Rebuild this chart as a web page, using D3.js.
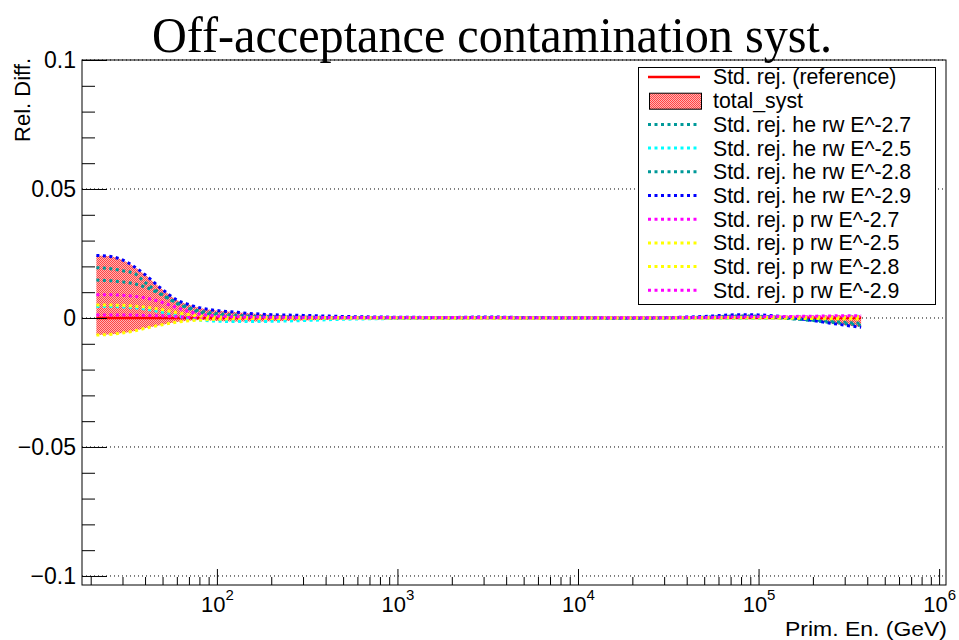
<!DOCTYPE html>
<html lang="en">
<head>
<meta charset="UTF-8">
<title>Off-acceptance contamination syst.</title>
<script src="https://cdn.jsdelivr.net/npm/d3@7"></script>
<style>
  body { margin: 0; background: #fff; }
</style>
</head>
<body>
<script>
// primary energy bin centres (GeV)
const energies = [21.5, 25, 30, 35, 40, 50, 60, 70, 80, 100, 120, 150, 200, 300, 500, 1000, 2000, 3000, 5000,
  10000, 20000, 50000, 80000, 100000, 150000, 200000, 250000, 300000, 370000]

const reference = [0, 0, 0, 0, 0, 0, 0, 0, 0, 0, 0, 0, 0, 0, 0, 0, 0, 0, 0, 0, 0, 0, 0, 0, 0, 0, 0, 0, 0]
const heRw27 = [0.0147, 0.0145, 0.0140, 0.0132, 0.0120, 0.0088, 0.0056, 0.0036, 0.0022, 0.0011, 0.0007, 0.0004, 0.0002, 0.0001, 0.0001, 0, 0, 0.0001, 0,
  0, 0, 0.0002, 0.0005, 0.0004, -0.0003, -0.0008, -0.0013, -0.0017, -0.0021]
const heRw25 = [0.0045, 0.0045, 0.0043, 0.0040, 0.0035, 0.0022, 0.0008, -0.0002, -0.0008, -0.0012, -0.0014, -0.0014, -0.0013, -0.0010, -0.0005, -0.0002, -0.0001, 0, 0,
  0, 0, -0.0001, -0.0002, -0.0002, 0.0001, 0.0003, 0.0005, 0.0006, 0.0007]
const heRw28 = [0.0195, 0.0192, 0.0183, 0.0172, 0.0138, 0.0090, 0.0060, 0.0040, 0.0028, 0.0017, 0.0012, 0.0008, 0.0005, 0.0003, 0.0002, 0.0001, 0.0001, 0.0002, 0.0001,
  0, -0.0001, 0.0003, 0.0008, 0.0007, -0.0002, -0.0010, -0.0017, -0.0022, -0.0028]
const heRw29 = [0.0242, 0.0240, 0.0225, 0.0198, 0.0168, 0.0110, 0.0070, 0.0052, 0.0040, 0.0029, 0.0024, 0.0018, 0.0013, 0.0010, 0.0006, 0.0003, 0.0002, 0.0004, 0.0002,
  0.0001, 0, 0.0006, 0.0013, 0.0012, 0.0002, -0.0010, -0.0020, -0.0028, -0.0036]
const pRw27 = [0.0012, 0.0012, 0.0012, 0.0011, 0.0010, 0.0008, 0.0005, 0.0003, 0.0002, 0.0001, 0.0001, 0.0001, 0.0001, 0.0001, 0.0001, 0.0001, 0.0001, 0.0001, 0.0001,
  0.0001, 0.0001, 0.0002, 0.0003, 0.0003, 0.0004, 0.0005, 0.0005, 0.0006, 0.0006]
const pRw25 = [-0.0066, -0.0064, -0.0058, -0.0050, -0.0040, -0.0026, -0.0016, -0.0011, -0.0008, -0.0005, -0.0003, -0.0002, -0.0002, -0.0001, 0, 0, 0, 0, 0,
  0, 0, 0, 0, 0, -0.0001, -0.0002, -0.0003, -0.0003, -0.0004]
const pRw28 = [0.0050, 0.0050, 0.0049, 0.0046, 0.0042, 0.0032, 0.0021, 0.0013, 0.0008, 0.0004, 0.0003, 0.0002, 0.0002, 0.0001, 0.0001, 0.0001, 0, 0.0001, 0,
  0, 0, 0.0001, 0.0002, 0.0002, 0.0003, 0.0003, 0.0004, 0.0004, 0.0005]
const pRw29 = [0.0090, 0.0090, 0.0088, 0.0084, 0.0078, 0.0060, 0.0040, 0.0025, 0.0015, 0.0008, 0.0005, 0.0004, 0.0003, 0.0002, 0.0002, 0.0002, 0.0002, 0.0002, 0.0001,
  0.0001, 0.0001, 0.0002, 0.0004, 0.0005, 0.0006, 0.0007, 0.0008, 0.0009, 0.0009]

const seriesNames = ['Std. rej. he rw E^-2.7', 'Std. rej. he rw E^-2.5', 'Std. rej. he rw E^-2.8', 'Std. rej. he rw E^-2.9',
  'Std. rej. p rw E^-2.7', 'Std. rej. p rw E^-2.5', 'Std. rej. p rw E^-2.8', 'Std. rej. p rw E^-2.9']
const seriesValues = [heRw27, heRw25, heRw28, heRw29, pRw27, pRw25, pRw28, pRw29]
const seriesColors = ['#009999', '#00ffff', '#009999', '#0000ff', '#ff00ff', '#ffff00', '#ffff00', '#ff00ff']

const yMajor = [-0.1, -0.05, 0, 0.05, 0.1]
const yMajorLabels = ['\u22120.1', '\u22120.05', '0', '0.05', '0.1']
const xMajor = [100, 1000, 10000, 100000, 1000000]
const xMajorExp = ['2', '3', '4', '5', '6']

const W = 959, H = 640
const padL = 82, padR = 946, padT = 60, padB = 585
const sans = '"Liberation Sans", Arial, sans-serif'

const x = d3.scaleLog().domain([17.9, 1.092e6]).range([padL, padR])
const y = d3.scaleLinear().domain([-0.1035, 0.1]).range([padB, padT])

const svg = d3.select('body').append('svg').attr('width', W).attr('height', H)
  .attr('font-family', sans)

// checkered fill like ROOT's pattern style
const pat = svg.append('defs').append('pattern').attr('id', 'chk')
  .attr('width', 2).attr('height', 2).attr('patternUnits', 'userSpaceOnUse')
pat.append('rect').attr('width', 2).attr('height', 2).attr('fill', '#ffb3b3')
pat.append('rect').attr('width', 1).attr('height', 1).attr('fill', '#ff4444')
pat.append('rect').attr('x', 1).attr('y', 1).attr('width', 1).attr('height', 1).attr('fill', '#ff4444')

// grid
svg.append('g').selectAll('line').data(yMajor).join('line')
  .attr('x1', padL).attr('x2', padR)
  .attr('y1', d => y(d)).attr('y2', d => y(d))
  .attr('stroke', '#000').attr('stroke-width', 1).attr('stroke-dasharray', '1,3')

// total_syst band = envelope of all variations
const allSeries = [reference].concat(seriesValues)
const band = energies.map((e, i) => ({
  e: e,
  hi: d3.max(allSeries, s => s[i]),
  lo: d3.min(allSeries, s => s[i])
}))
svg.append('path').datum(band)
  .attr('d', d3.area().x(d => x(d.e)).y0(d => y(d.lo)).y1(d => y(d.hi)).curve(d3.curveMonotoneX))
  .attr('fill', 'url(#chk)')

const line = d3.line().x((d, i) => x(energies[i])).y(d => y(d)).curve(d3.curveMonotoneX)

svg.append('path').datum(reference).attr('d', line)
  .attr('fill', 'none').attr('stroke', '#ff0000').attr('stroke-width', 2.5)
seriesValues.forEach((s, k) => {
  svg.append('path').datum(s).attr('d', line)
    .attr('fill', 'none').attr('stroke', seriesColors[k])
    .attr('stroke-width', 3).attr('stroke-dasharray', '3,3.5')
})

// axes, ticks inside frame
const yAxis = svg.append('g').attr('transform', 'translate(' + padL + ',0)')
  .call(d3.axisLeft(y).tickValues(yMajor).tickSize(-25).tickPadding(6).tickFormat((d, i) => yMajorLabels[i]))
yAxis.select('.domain').remove()
yAxis.selectAll('text').attr('font-size', 23).attr('font-family', sans).attr('fill', '#000')
const yMinor = d3.range(-10, 11).map(v => v / 100).filter(v => Math.round(v * 100) % 5 !== 0)
const yAxisMinor = svg.append('g').attr('transform', 'translate(' + padL + ',0)')
  .call(d3.axisLeft(y).tickValues(yMinor).tickSize(-13).tickFormat(''))
yAxisMinor.select('.domain').remove()

const xAxis = svg.append('g').attr('transform', 'translate(0,' + padB + ')')
  .call(d3.axisBottom(x).tickValues(xMajor).tickSize(-16).tickPadding(11).tickFormat(''))
xAxis.select('.domain').remove()
xAxis.selectAll('.tick').each(function (d, i) {
  const t = d3.select(this).select('text').attr('font-size', 22).attr('fill', '#000')
    .attr('font-family', sans).attr('dy', '0.71em')
  t.append('tspan').text('10')
  t.append('tspan').attr('font-size', 15).attr('dy', '-0.75em').text(xMajorExp[i])
})
const xMinor = []
;[10, 100, 1000, 10000, 100000].forEach(dec => {
  for (let m = 2; m <= 9; m++) if (dec * m > 17.9 && dec * m < 1.092e6) xMinor.push(dec * m)
})
const xAxisMinor = svg.append('g').attr('transform', 'translate(0,' + padB + ')')
  .call(d3.axisBottom(x).tickValues(xMinor).tickSize(-8).tickFormat(''))
xAxisMinor.select('.domain').remove()
svg.selectAll('.tick line').attr('stroke', '#000').attr('stroke-width', 1)

// frame
svg.append('rect').attr('x', padL).attr('y', padT).attr('width', padR - padL).attr('height', padB - padT)
  .attr('fill', 'none').attr('stroke', '#000').attr('stroke-width', 1)

// titles
svg.append('text').attr('x', 492).attr('y', 52).attr('text-anchor', 'middle')
  .attr('font-family', '"Liberation Serif", "Times New Roman", serif').attr('font-size', 50)
  .attr('textLength', 680).attr('lengthAdjust', 'spacingAndGlyphs')
  .text('Off-acceptance contamination syst.')
svg.append('text').attr('x', 947).attr('y', 635.5).attr('text-anchor', 'end').attr('font-size', 21)
  .attr('textLength', 162).attr('lengthAdjust', 'spacingAndGlyphs')
  .text('Prim. En. (GeV)')
svg.append('text').attr('transform', 'translate(30,58) rotate(-90)').attr('text-anchor', 'end')
  .attr('font-size', 22).text('Rel. Diff.')

// legend
const lg = svg.append('g')
lg.append('rect').attr('x', 638.5).attr('y', 67.5).attr('width', 297).attr('height', 237)
  .attr('fill', '#fff').attr('stroke', '#000').attr('stroke-width', 1)
const legendLabels = ['Std. rej. (reference)', 'total_syst'].concat(seriesNames)
const rowY = i => 77 + i * 23.7
legendLabels.forEach((lab, i) => {
  const cy = rowY(i)
  if (i === 0) {
    lg.append('line').attr('x1', 648).attr('x2', 700).attr('y1', cy).attr('y2', cy)
      .attr('stroke', '#ff0000').attr('stroke-width', 2.5)
  } else if (i === 1) {
    lg.append('rect').attr('x', 649.5).attr('y', cy - 7.5).attr('width', 52).attr('height', 16)
      .attr('fill', 'url(#chk)').attr('stroke', '#000').attr('stroke-width', 1)
  } else {
    lg.append('line').attr('x1', 648).attr('x2', 700).attr('y1', cy).attr('y2', cy)
      .attr('stroke', seriesColors[i - 2]).attr('stroke-width', 3).attr('stroke-dasharray', '3,3.5')
  }
  lg.append('text').attr('x', 713).attr('y', cy).attr('dy', '0.35em').attr('font-size', 21.3).text(lab)
})
</script>
</body>
</html>
